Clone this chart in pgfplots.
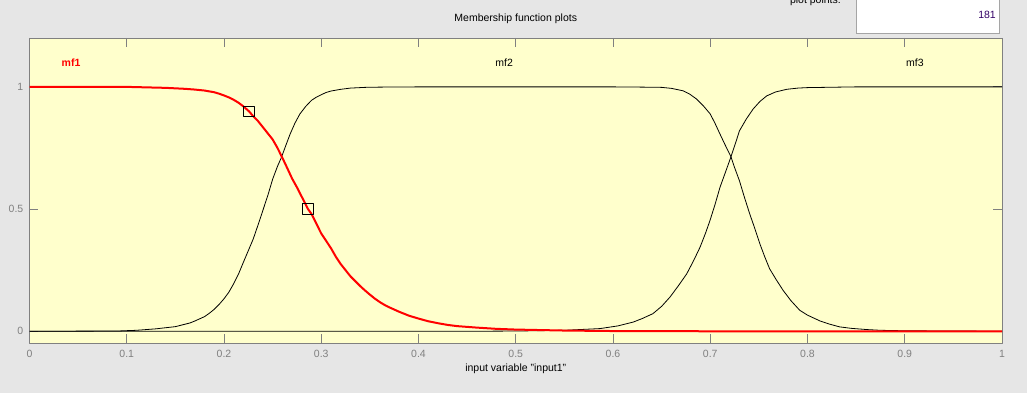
\documentclass[border=0pt]{standalone}
\usepackage{pgfplots}
\pgfplotsset{compat=1.18}
\usepackage{fontspec}
\setmainfont{Liberation Sans}
\definecolor{bg}{RGB}{230,230,230}
\definecolor{axbg}{RGB}{255,255,204}
\definecolor{axgray}{RGB}{128,128,128}
\definecolor{boxgray}{RGB}{165,165,165}
\definecolor{numcol}{RGB}{51,0,102}
\newcommand\ff{\fontsize{10.5}{12}\selectfont}
\begin{document}
\begin{tikzpicture}[font=\ff]
\useasboundingbox (0pt,0pt) rectangle (1027pt,393pt);
\fill[bg] (0pt,0pt) rectangle (1027pt,393pt);
\begin{scope}
\clip (0pt,0pt) rectangle (1027pt,393pt);
\draw[fill=white, draw=boxgray, line width=0.9pt] (856.7pt,359.7pt) rectangle (999.3pt,400pt);
\node[anchor=base east, inner sep=0pt] at (841pt,389.7pt) {plot points:};
\node[anchor=base east, inner sep=0pt, text=numcol] at (996pt,374.7pt) {181};
\end{scope}
\begin{axis}[
  at={(29.5pt,49.5pt)}, anchor=south west,
  width=972.5pt, height=305.5pt, scale only axis,
  xmin=0, xmax=1, ymin=-0.05, ymax=1.2,
  axis background/.style={fill=axbg},
  axis line style={axgray, line width=0.9pt},
  every tick/.style={axgray, line width=0.9pt},
  tick align=inside, tick pos=both, major tick length=9pt,
  xtick={0,0.1,0.2,0.3,0.4,0.5,0.6,0.7,0.8,0.9,1},
  ytick={0,0.5,1},
  /pgf/number format/assume math mode=true,
  xticklabel style={anchor=base, yshift=-13.8pt, inner sep=0pt, text=axgray, font=\ff},
  yticklabel style={anchor=east, xshift=-6pt, inner sep=0pt, text=axgray, font=\ff},
  title={Membership function plots},
  title style={at={(axis description cs:0.5,1)}, anchor=base, yshift=10pt, inner sep=0pt, font=\ff},
  xlabel={input variable "input1"},
  xlabel style={at={(axis description cs:0.5,0)}, anchor=base, yshift=-28.3pt, inner sep=0pt, font=\ff},
  line join=round,
]
% mf3
\addplot[black, line width=0.8pt] coordinates {
(0,0) (0.45,0) (0.50,0.001) (0.55,0.004) (0.5866,0.011) (0.605,0.022) (0.621,0.038)
(0.63,0.052) (0.641,0.072) (0.65,0.102) (0.6586,0.140) (0.667,0.185) (0.6758,0.235)
(0.683,0.29) (0.6895,0.344) (0.695,0.40) (0.6997,0.453) (0.705,0.52) (0.710,0.589)
(0.716,0.655) (0.7213,0.714) (0.726,0.77) (0.730,0.820) (0.737,0.868) (0.744,0.909)
(0.751,0.94) (0.758,0.963) (0.767,0.979) (0.7786,0.990) (0.79,0.995) (0.80,0.997)
(0.85,1.0) (1.0,1.0)};
% mf2
\addplot[black, line width=0.8pt] coordinates {
(0,0) (0.09,0.001) (0.11,0.004) (0.13,0.010) (0.15,0.019) (0.165,0.034) (0.17,0.042)
(0.18,0.06) (0.185,0.074) (0.19,0.09) (0.195,0.11) (0.20,0.133) (0.205,0.16) (0.21,0.195)
(0.215,0.235) (0.22,0.283) (0.225,0.33) (0.23,0.377) (0.235,0.435) (0.24,0.495)
(0.245,0.555) (0.25,0.622) (0.255,0.675) (0.259,0.711) (0.264,0.765) (0.268,0.807)
(0.273,0.852) (0.278,0.889) (0.284,0.92) (0.29,0.945) (0.295,0.958) (0.30,0.968)
(0.305,0.977) (0.31,0.983) (0.32,0.99) (0.33,0.995) (0.345,0.998) (0.36,0.999)
(0.40,1.0) (0.60,1.0) (0.63,0.999) (0.65,0.998) (0.66,0.994) (0.672,0.984) (0.679,0.970)
(0.686,0.950) (0.693,0.922) (0.700,0.889) (0.705,0.850) (0.710,0.807) (0.715,0.765)
(0.7213,0.714) (0.725,0.670) (0.730,0.616) (0.735,0.55) (0.7406,0.48) (0.745,0.43)
(0.751,0.358) (0.756,0.305) (0.761,0.256) (0.768,0.21) (0.775,0.167) (0.783,0.125)
(0.792,0.086) (0.80,0.066) (0.813,0.042) (0.822,0.030) (0.833,0.018) (0.845,0.012)
(0.861,0.007) (0.875,0.004) (0.9,0.002) (1.0,0)};
% mf1
\addplot[red, line width=2pt] coordinates {
(0,1.0) (0.10,1.0) (0.12,0.998) (0.14,0.996) (0.16,0.992) (0.17,0.989) (0.18,0.985)
(0.19,0.978) (0.195,0.972) (0.20,0.965) (0.205,0.957) (0.21,0.947) (0.215,0.935)
(0.22,0.92) (0.2257,0.9) (0.23,0.88) (0.235,0.86) (0.24,0.835) (0.245,0.81) (0.25,0.785)
(0.255,0.75) (0.26,0.71) (0.265,0.668) (0.27,0.625) (0.275,0.589) (0.28,0.55)
(0.2864,0.5) (0.29,0.48) (0.295,0.44) (0.30,0.40) (0.305,0.37) (0.31,0.34) (0.315,0.305)
(0.32,0.275) (0.325,0.25) (0.33,0.225) (0.34,0.185) (0.345,0.167) (0.35,0.15)
(0.355,0.134) (0.36,0.12) (0.365,0.108) (0.37,0.098) (0.375,0.089) (0.38,0.08)
(0.385,0.072) (0.39,0.064) (0.40,0.052) (0.41,0.041) (0.42,0.033) (0.43,0.026)
(0.44,0.021) (0.45,0.018) (0.46,0.015) (0.48,0.010) (0.50,0.007)
(0.55,0.003) (0.60,0.001) (0.70,0) (1.0,0)};
% control points
\addplot[only marks, mark=square, mark size=5.2pt, mark options={black, line width=0.9pt}] coordinates {(0.2257,0.9) (0.2864,0.5)};
\node[text=red, font=\ff\bfseries] at (axis cs:0.0427,1.1) {mf1};
\node[text=black, font=\ff] at (axis cs:0.488,1.1) {mf2};
\node[text=black, font=\ff] at (axis cs:0.9105,1.1) {mf3};
\end{axis}
\end{tikzpicture}
\end{document}
